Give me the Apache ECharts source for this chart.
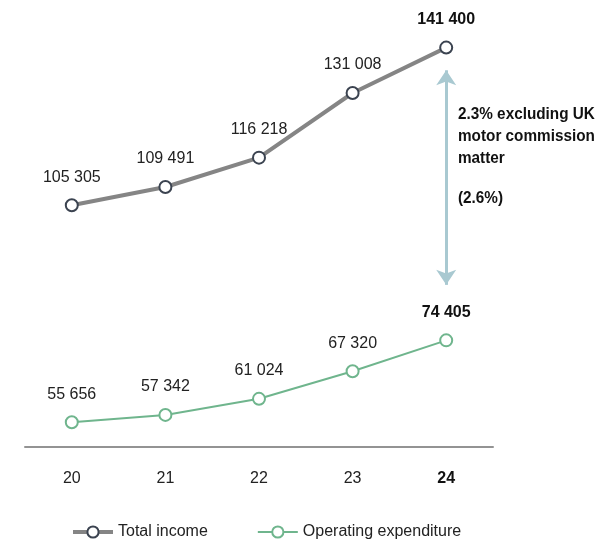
<!DOCTYPE html>
<html>
<head>
<meta charset="utf-8">
<style>
  html, body { margin: 0; padding: 0; background: #fff; }
  #chart { width: 597px; height: 545px; }
</style>
<script src="https://cdn.jsdelivr.net/npm/echarts@6/dist/echarts.min.js"></script>
</head>
<body>
<div id="chart"></div>
<script>
// Years (two-digit) and the two series, in millions
const years = ['20', '21', '22', '23', '24'];
const totalIncome = [105305, 109491, 116218, 131008, 141400];
const operatingExpenditure = [55656, 57342, 61024, 67320, 74405];
// Ends of the gap arrow drawn at the latest year
const gapArrow = [136200, 87100];
const noteLines = ['2.3% excluding UK', 'motor commission', 'matter'];
const noteSub = '(2.6%)';

const FONT = '"Liberation Sans", Arial, sans-serif';
const last = years.length - 1;

function fmt(v) {
  return String(v).replace(/\B(?=(\d{3})+(?!\d))/g, ' ');
}

const chart = echarts.init(document.getElementById('chart'), null, { renderer: 'canvas' });

function labelFor(color) {
  return {
    show: true,
    position: 'top',
    distance: 13,
    fontFamily: FONT,
    fontSize: 16,
    color: color,
    formatter: p => p.dataIndex === last ? '{b|' + fmt(p.value) + '}' : fmt(p.value),
    rich: { b: { fontFamily: FONT, fontSize: 16, fontWeight: 'bold', color: '#111' } }
  };
}

chart.setOption({
  animation: false,
  grid: { left: 25, width: 468, top: 10, bottom: 98 },
  xAxis: {
    type: 'category',
    data: years,
    boundaryGap: true,
    axisLine: { lineStyle: { color: '#939393', width: 2 } },
    axisTick: { show: false },
    axisLabel: {
      margin: 24,
      fontFamily: FONT,
      fontSize: 16,
      color: '#222',
      formatter: (v, i) => i === last ? '{b|' + v + '}' : v,
      rich: { b: { fontFamily: FONT, fontSize: 16, fontWeight: 'bold', color: '#111' } }
    }
  },
  yAxis: {
    type: 'value',
    min: 50000,
    max: 150000,
    show: false,
    splitLine: { show: false }
  },
  legend: {
    bottom: 0,
    left: 66,
    itemGap: 49,
    itemWidth: 40,
    itemHeight: 14,
    textStyle: { fontFamily: FONT, fontSize: 16, color: '#222' },
    data: [
      { name: 'Total income', itemStyle: { borderWidth: 2 }, lineStyle: { width: 4 } },
      { name: 'Operating expenditure', itemStyle: { borderWidth: 2 }, lineStyle: { width: 2 } }
    ]
  },
  series: [
    {
      name: 'Total income',
      type: 'line',
      data: totalIncome,
      symbol: 'circle',
      symbolSize: 12,
      lineStyle: { color: '#858585', width: 4 },
      itemStyle: { color: '#ffffff', borderColor: '#3b4350', borderWidth: 2 },
      label: labelFor('#222'),
      markLine: {
        silent: true,
        symbol: ['arrow', 'arrow'],
        symbolSize: [15, 15],
        label: { show: false },
        lineStyle: { color: '#a9c9d1', width: 3, type: 'solid' },
        data: [[{ coord: [last, gapArrow[0]] }, { coord: [last, gapArrow[1]] }]]
      },
      z: 3
    },
    {
      name: 'Operating expenditure',
      type: 'line',
      data: operatingExpenditure,
      symbol: 'circle',
      symbolSize: 12,
      lineStyle: { color: '#6fb58d', width: 2 },
      itemStyle: { color: '#ffffff', borderColor: '#6fb58d', borderWidth: 2 },
      label: labelFor('#222'),
      z: 3
    }
  ],
  graphic: [
    {
      type: 'text',
      x: 458,
      y: 103,
      scaleX: 0.9,
      style: {
        text: noteLines.join('\n'),
        fontFamily: FONT,
        fontSize: 17,
        fontWeight: 'bold',
        lineHeight: 22,
        fill: '#111'
      }
    },
    {
      type: 'text',
      x: 458,
      y: 190,
      scaleX: 0.9,
      style: {
        text: noteSub,
        fontFamily: FONT,
        fontSize: 17,
        fontWeight: 'bold',
        fill: '#111'
      }
    }
  ]
});
</script>
</body>
</html>
